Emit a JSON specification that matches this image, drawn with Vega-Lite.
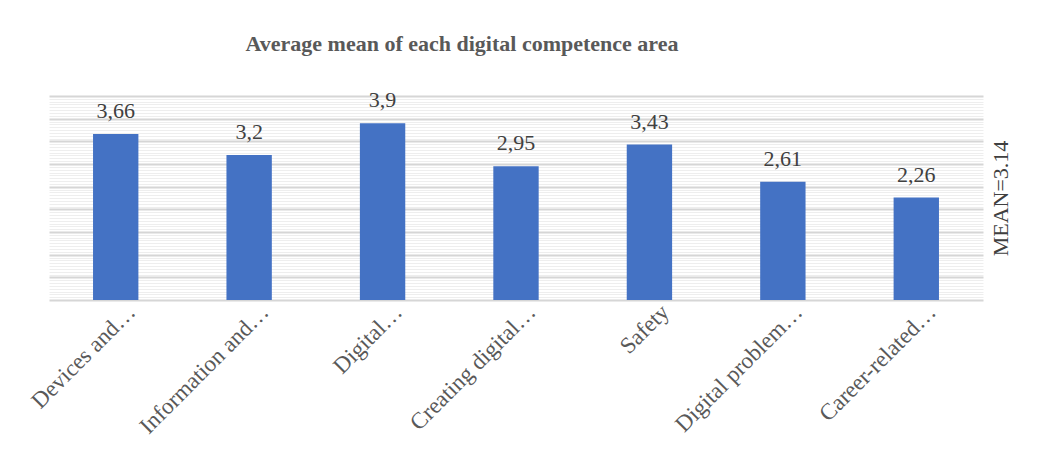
{
  "$schema": "https://vega.github.io/schema/vega-lite/v6.json",
  "autosize": {"type": "none"},
  "width": 934,
  "height": 204,
  "padding": {"left": 49, "top": 96, "right": 54, "bottom": 159},
  "background": "white",
  "title": {
    "text": "Average mean of each digital  competence area",
    "font": "Liberation Serif",
    "fontSize": 22,
    "fontWeight": "bold",
    "color": "#595959",
    "anchor": "middle",
    "frame": "group",
    "baseline": "alphabetic",
    "offset": 16,
    "dx": -54
  },
  "data": {
    "values": [
      {"area": "Devices and…", "mean": 3.66, "label": "3,66"},
      {"area": "Information and…", "mean": 3.2, "label": "3,2"},
      {"area": "Digital…", "mean": 3.9, "label": "3,9"},
      {"area": "Creating digital…", "mean": 2.95, "label": "2,95"},
      {"area": "Safety", "mean": 3.43, "label": "3,43"},
      {"area": "Digital problem…", "mean": 2.61, "label": "2,61"},
      {"area": "Career-related…", "mean": 2.26, "label": "2,26"}
    ]
  },
  "encoding": {
    "x": {
      "field": "area",
      "type": "nominal",
      "sort": null,
      "scale": {"paddingInner": 0.66, "paddingOuter": 0.33},
      "axis": {
        "title": null,
        "domain": false,
        "ticks": false,
        "labelFont": "Liberation Serif",
        "labelFontSize": 23,
        "labelColor": "#595959",
        "labelAngle": -45,
        "labelAlign": "right",
        "labelBaseline": "alphabetic",
        "labelOffset": 21,
        "labelPadding": 13,
        "labelLimit": 0
      }
    },
    "y": {
      "field": "mean",
      "type": "quantitative",
      "scale": {"domain": [0, 4.5], "nice": false, "zero": true},
      "axis": {
        "orient": "right",
        "labels": false,
        "ticks": false,
        "domain": false,
        "title": "MEAN=3.14",
        "titleAngle": -90,
        "titleFont": "Liberation Serif",
        "titleFontSize": 22,
        "titleFontWeight": "normal",
        "titleColor": "#404040",
        "titlePadding": 29,
        "titleBaseline": "bottom",
        "grid": true,
        "gridColor": {"condition": {"test": "datum.value * 2 === floor(datum.value * 2)", "value": "#d6d6d6"}, "value": "#eeeeee"},
        "gridWidth": {"condition": {"test": "datum.value * 2 === floor(datum.value * 2)", "value": 2}, "value": 1},
        "values": [0, 0.0625, 0.125, 0.1875, 0.25, 0.3125, 0.375, 0.4375, 0.5, 0.5625, 0.625, 0.6875, 0.75, 0.8125, 0.875, 0.9375, 1, 1.0625, 1.125, 1.1875, 1.25, 1.3125, 1.375, 1.4375, 1.5, 1.5625, 1.625, 1.6875, 1.75, 1.8125, 1.875, 1.9375, 2, 2.0625, 2.125, 2.1875, 2.25, 2.3125, 2.375, 2.4375, 2.5, 2.5625, 2.625, 2.6875, 2.75, 2.8125, 2.875, 2.9375, 3, 3.0625, 3.125, 3.1875, 3.25, 3.3125, 3.375, 3.4375, 3.5, 3.5625, 3.625, 3.6875, 3.75, 3.8125, 3.875, 3.9375, 4, 4.0625, 4.125, 4.1875, 4.25, 4.3125, 4.375, 4.4375, 4.5]
      }
    }
  },
  "layer": [
    {"mark": {"type": "bar", "color": "#4472C4"}},
    {
      "mark": {"type": "text", "baseline": "alphabetic", "dy": -16, "font": "Liberation Serif", "fontSize": 22, "color": "#404040"},
      "encoding": {"text": {"field": "label"}}
    }
  ],
  "config": {"view": {"stroke": null}}
}
